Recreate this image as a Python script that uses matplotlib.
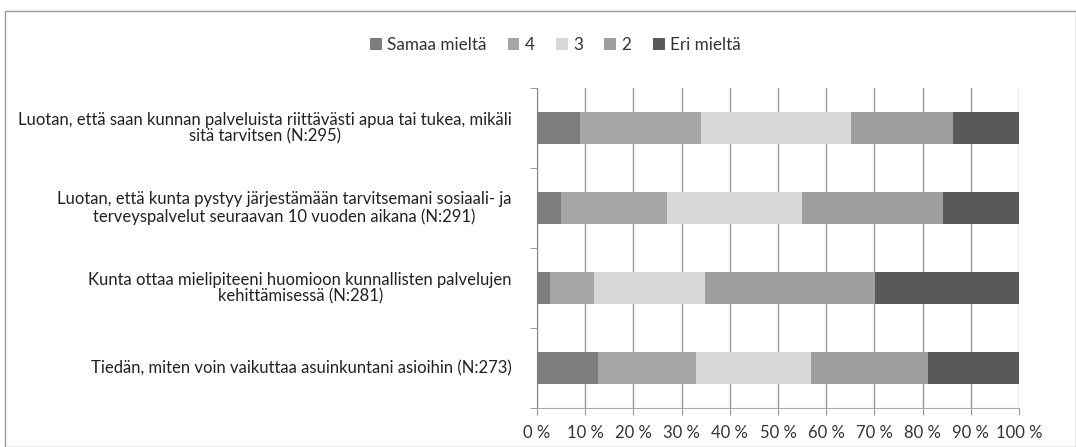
import matplotlib
matplotlib.use("Agg")
import matplotlib.pyplot as plt
import matplotlib.transforms as mtransforms
import numpy as np
from matplotlib.patches import Rectangle

plt.rcParams['font.family'] = ['Lato', 'DejaVu Sans']

categories = [
    "Luotan, että saan kunnan palveluista riittävästi apua tai tukea, mikäli\nsitä tarvitsen (N:295)",
    "Luotan, että kunta pystyy järjestämään tarvitsemani sosiaali- ja\nterveyspalvelut seuraavan 10 vuoden aikana (N:291)",
    "Kunta ottaa mielipiteeni huomioon kunnallisten palvelujen\nkehittämisessä (N:281)",
    "Tiedän, miten voin vaikuttaa asuinkuntani asioihin (N:273)",
]
series_names = ["Samaa mieltä", "4", "3", "2", "Eri mieltä"]
samaa = [9.0, 4.9, 2.8, 12.7]
neljä = [25.0, 22.0, 9.0, 20.2]
kolme = [31.1, 28.1, 23.1, 23.9]
kaksi = [21.2, 29.2, 35.2, 24.3]
eri = [13.7, 15.8, 29.9, 18.9]
series = [samaa, neljä, kolme, kaksi, eri]
colors = ["#7d7d7d", "#a6a6a6", "#d8d8d8", "#9e9e9e", "#595959"]
xticks = [0, 10, 20, 30, 40, 50, 60, 70, 80, 90, 100]
xticklabels = [f"{v} %" for v in xticks]

fig = plt.figure(figsize=(10.76, 4.47), dpi=100)
ax = fig.add_axes([537/1076, 1 - 408/447, (1019-537)/1076, (408-88)/447])

y = np.arange(len(categories))
left = np.zeros(len(categories))
handles = []
for name, vals, c in zip(series_names, series, colors):
    h = ax.barh(y, vals, left=left, height=0.39, color=c, label=name, zorder=3)
    handles.append(h)
    left += np.array(vals)

ax.set_xlim(0, 100)
ax.set_ylim(len(categories) - 0.5, -0.5)
ax.set_xticks(xticks)
ax.set_xticklabels(xticklabels, fontsize=12, color="#333333")
ax.set_yticks(y)
ax.set_yticklabels([])
trans = mtransforms.blended_transform_factory(ax.transAxes, ax.transData)
for yi, cat in zip(y, categories):
    ax.text(-0.052, yi, cat, transform=trans, ha='right', va='center',
            multialignment='center', fontsize=12, color="#222222", linespacing=1.05)
ax.set_yticks(np.arange(-0.5, len(categories), 1), minor=True)
ax.tick_params(axis='y', which='major', length=0)
ax.tick_params(axis='y', which='minor', length=5, color="#888888", direction='out')
ax.tick_params(axis='x', which='major', length=5, color="#999999", direction='out', pad=7)
ax.grid(axis='x', color="#999999", linewidth=1, zorder=0)
for s in ['top', 'right']:
    ax.spines[s].set_visible(False)
ax.spines['left'].set_color("#888888")
ax.spines['bottom'].set_color("#aaaaaa")
ax.spines['bottom'].set_linestyle((0, (2, 1)))

fig.legend(handles=handles, labels=series_names, loc='center', bbox_to_anchor=(555/1076, 1 - 45/447),
           ncol=5, frameon=False, fontsize=12.3, handlelength=0.7, handleheight=0.7,
           handletextpad=0.3, columnspacing=1.25, labelcolor="#333333")

fig.patches.append(Rectangle((5/1076, 0), 1 - 5/1076, 1 - 11/447, transform=fig.transFigure,
                             fill=False, edgecolor="#999999", linewidth=1))

fig.savefig("out.png", dpi=100)
